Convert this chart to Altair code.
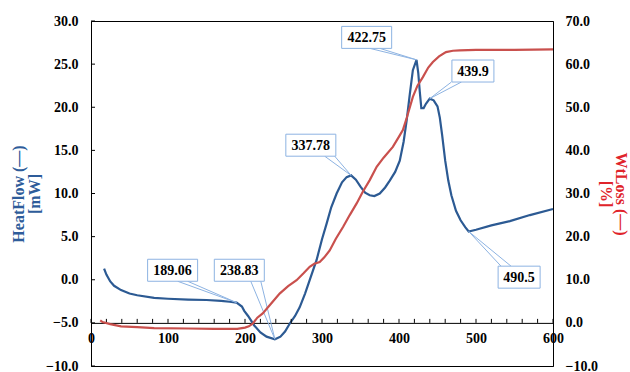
import altair as alt
import pandas as pd

# DSC heat-flow trace: temperature (°C) and heat flow (mW)
hf_temp = [17, 20, 25, 30, 39, 50, 60, 82, 100, 126, 150, 169, 180, 189.06,
           196, 199, 204, 212, 220, 228, 238.83, 246, 252, 258, 265, 271, 278,
           284, 293, 300, 306, 312, 319, 326, 332, 337.78, 344, 350, 356, 362,
           368, 375, 382, 388, 395, 401, 406, 410, 414, 418, 422.75, 425, 427,
           429, 432, 435, 439.9, 445, 450, 453, 456, 460, 464, 468, 474, 480,
           486, 490.5, 500, 520, 544, 570, 600]
hf_val = [1.3, 0.6, -0.2, -0.7, -1.2, -1.6, -1.8, -2.1, -2.2, -2.3, -2.35,
          -2.45, -2.55, -2.65, -3.1, -3.6, -4.2, -5.3, -6.1, -6.6, -6.9, -6.6,
          -6.0, -5.1, -4.2, -3.2, -1.6, -0.05, 2.3, 4.7, 6.5, 8.4, 10.0, 11.3,
          11.9, 12.1, 11.6, 10.8, 10.1, 9.8, 9.7, 10.0, 10.7, 11.5, 12.5, 13.8,
          16.0, 18.5, 21.5, 24.3, 25.5, 24.0, 21.8, 19.9, 19.9, 20.4, 21.0,
          20.8, 20.1, 18.8, 16.8, 13.8, 11.5, 9.8, 8.0, 6.9, 6.1, 5.6, 5.8,
          6.3, 6.8, 7.5, 8.2]

# TGA weight-loss trace: temperature (°C) and weight loss (%)
wl_temp = [12, 15, 25, 39, 60, 82, 126, 160, 190, 200, 205, 210, 216, 223,
           234, 245, 256, 267, 276, 284, 290, 297, 303, 310, 318, 327.5, 336,
           345, 353, 362, 371, 380, 392, 400, 405, 410, 418, 424, 431, 438,
           444, 452, 461, 470, 479, 500, 550, 600]
wl_val = [0.6, 0.2, -0.3, -0.8, -1.0, -1.2, -1.3, -1.4, -1.4, -1.1, -0.8,
          -0.2, 1.2, 2.2, 4.5, 6.8, 8.5, 9.9, 11.5, 13.0, 13.7, 14.1, 15.2,
          16.8, 19.5, 22.3, 25.0, 27.7, 30.4, 33.1, 36.2, 38.3, 40.8, 43.2,
          44.7, 47.5, 52.4, 55.0, 57.0, 59.2, 60.5, 61.8, 62.8, 63.1, 63.2,
          63.3, 63.3, 63.4]

# Peak callouts: label text, heat flow at the peak, callout box centre and
# the point on the box edge where the pointer leaves it
peak_labels = ["189.06", "238.83", "337.78", "422.75", "439.9", "490.5"]
peak_hf = [-2.65, -6.9, 12.1, 25.5, 21.0, 5.6]
box_temp = [106, 192.6, 285.5, 358, 496, 556]
box_hf = [1.1, 1.1, 15.6, 28.1, 24.2, 0.3]
stem_temp = [119, 214, 310, 368.7, 474.6, 539]

W, H = 462, 345
PAD_L, PAD_T = 91, 21
X_DOM = [0, 600]
HF_DOM = [-10, 30]
WL_DOM = [-10, 70]
UX = (X_DOM[1] - X_DOM[0]) / W      # °C per pixel
UY = (HF_DOM[1] - HF_DOM[0]) / H    # mW per pixel

SERIF = "Liberation Serif"
BLUE = "#2C5A93"
RED = "#C9504D"
TITLE_BLUE = "#2E5C9A"
TITLE_RED = "#E0242B"
CALLOUT = "#8DB3E2"

hf = pd.DataFrame({"temp": hf_temp, "hf": hf_val})
wl = pd.DataFrame({"temp": wl_temp, "wl": wl_val})

# callout boxes sized from their text
boxes = []
pointers = []
for lab, tip_v, bx, by, st in zip(peak_labels, peak_hf, box_temp, box_hf, stem_temp):
    tip_t = float(lab)
    bw = (8 * len(lab) + 2) * UX / 2
    bh = 11 * UY
    boxes.append({"label": lab, "cx": bx, "cy": by,
                  "x1": bx - bw, "x2": bx + bw, "y1": by - bh, "y2": by + bh})
    edge = by - bh if tip_v < by else by + bh
    spread = 5 * UX
    pointers += [
        {"label": lab, "o": 0, "temp": st - spread, "hf": edge},
        {"label": lab, "o": 1, "temp": tip_t, "hf": tip_v},
        {"label": lab, "o": 2, "temp": st + spread, "hf": edge},
    ]
boxes = pd.DataFrame(boxes)
pointers = pd.DataFrame(pointers)

x_scale = alt.Scale(domain=X_DOM, nice=False, zero=False)
hf_scale = alt.Scale(domain=HF_DOM, nice=False, zero=False)
wl_scale = alt.Scale(domain=WL_DOM, nice=False, zero=False)

label_style = dict(labelFont=SERIF, labelFontWeight="bold", labelFontSize=14,
                   labelColor="black")
title_style = dict(titleFont=SERIF, titleFontWeight="bold", titleFontSize=16)

x_axis = alt.Axis(values=list(range(0, 601, 100)), format="d", title=None,
                  offset=-H * 5 / 40, ticks=False, grid=False,
                  domainColor="black", labelFlush=False, labelOverlap=False,
                  labelPadding=9, **label_style)

hf_axis = alt.Axis(values=list(range(-10, 31, 5)), format=".1f", grid=False,
                   ticks=False, domainColor="black", labelPadding=13,
                   title=["HeatFlow (—)", "[mW]"], titleColor=TITLE_BLUE,
                   titlePadding=3, titleLineHeight=16, orient="left",
                   **label_style, **title_style)

wl_axis = alt.Axis(values=list(range(-10, 71, 10)), format=".1f", grid=False,
                   ticks=False, domainColor="black", labelPadding=12,
                   title=["WtLoss (—)", "[%]"], titleColor=TITLE_RED,
                   titlePadding=0, titleLineHeight=15.5, orient="right",
                   **label_style, **title_style)


def tx(field):
    return alt.X(field, scale=x_scale, axis=x_axis)


def ty(field):
    return alt.Y(field, scale=hf_scale, axis=hf_axis)


heat = alt.Chart(hf).mark_line(color=BLUE, strokeWidth=2.2).encode(
    x=tx("temp:Q"), y=ty("hf:Q"),
)

# minor ticks along the temperature axis, pointing into the plot
x_ticks = alt.Chart(pd.DataFrame({"temp": list(range(0, 601, 20)),
                                  "base": -5})).mark_rule(
    color="black", strokeWidth=1, y2Offset=-4
).encode(
    x=tx("temp:Q"), y=ty("base:Q"), y2="base:Q",
)

# inward ticks on the heat-flow axis
y_ticks = alt.Chart(pd.DataFrame({"hf": list(range(-10, 31, 5))})).mark_rule(
    color="black", strokeWidth=1
).encode(
    y=ty("hf:Q"), x=alt.value(0), x2=alt.value(4),
)

pointer = alt.Chart(pointers).mark_line(color=CALLOUT, strokeWidth=1).encode(
    x=tx("temp:Q"), y=ty("hf:Q"), detail="label:N", order="o:Q",
)

box = alt.Chart(boxes).mark_rect(fill="white", stroke=CALLOUT, strokeWidth=1).encode(
    x=tx("x1:Q"), x2="x2:Q", y=ty("y1:Q"), y2="y2:Q",
)

box_text = alt.Chart(boxes).mark_text(
    font=SERIF, fontWeight="bold", fontSize=14, color="black",
    align="center", baseline="middle", dy=1
).encode(
    x=tx("cx:Q"), y=ty("cy:Q"), text="label:N",
)

loss = alt.Chart(wl).mark_line(color=RED, strokeWidth=2.2).encode(
    x=tx("temp:Q"),
    y=alt.Y("wl:Q", scale=wl_scale, axis=wl_axis),
)

left = alt.layer(heat, x_ticks, y_ticks, pointer, box, box_text)
chart = alt.layer(left, loss).resolve_scale(y="independent")

chart = chart.properties(
    width=W, height=H,
    autosize=alt.AutoSizeParams(type="none"),
    padding={"left": PAD_L, "top": PAD_T,
             "right": 630 - PAD_L - W, "bottom": 372 - PAD_T - H},
    background="white",
).configure_view(stroke="black", strokeWidth=1)

chart.save("out.html", embed_options={"renderer": "svg", "actions": False})
